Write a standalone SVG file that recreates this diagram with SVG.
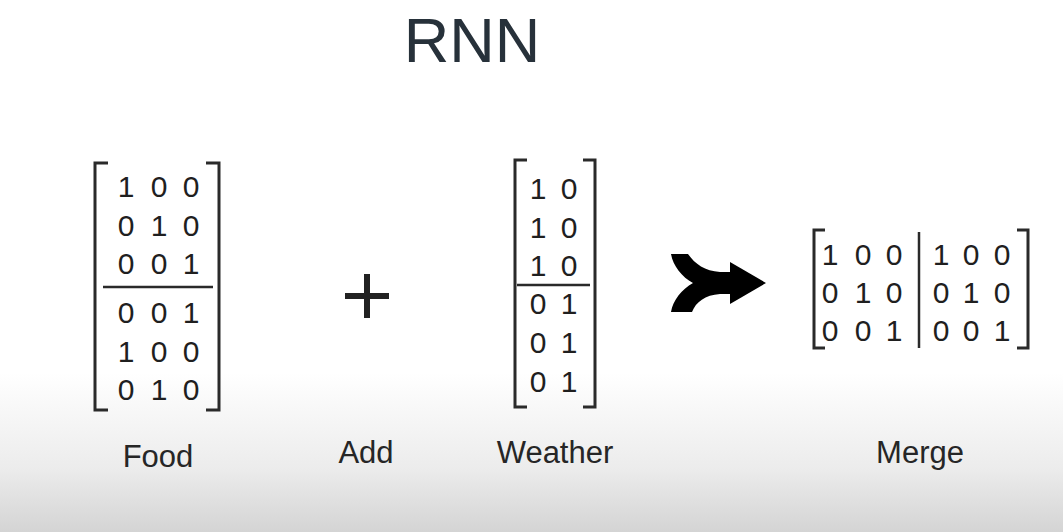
<svg xmlns="http://www.w3.org/2000/svg" width="1063" height="532" viewBox="0 0 1063 532">
<defs>
<linearGradient id="bg" x1="0" y1="0" x2="0" y2="1">
<stop offset="0" stop-color="#ffffff"/>
<stop offset="0.7" stop-color="#ffffff"/>
<stop offset="0.88" stop-color="#ececec"/>
<stop offset="1" stop-color="#d4d4d4"/>
</linearGradient>
</defs>
<style>
.d{font-family:"Liberation Sans",Arial,sans-serif;font-size:30px;fill:#1f1f1f;text-anchor:middle}
.lbl{font-family:"Liberation Sans",Arial,sans-serif;font-size:31px;fill:#262626;text-anchor:middle}
.br{fill:none;stroke:#2a2a2a;stroke-width:3}
.sep{fill:none;stroke:#2a2a2a;stroke-width:2.5}
</style>
<rect x="0" y="0" width="1063" height="532" fill="url(#bg)"/>
<text x="472" y="62" font-family="Liberation Sans, Arial, sans-serif" font-size="63" fill="#27313a" text-anchor="middle">RNN</text>

<g id="food">
<path class="br" d="M108 163 H95 V410 H108"/>
<path class="br" d="M206 163 H219 V410 H206"/>
<line class="sep" x1="103" y1="287" x2="213" y2="287"/>
<g class="d">
<text x="126" y="197">1</text><text x="159" y="197">0</text><text x="191" y="197">0</text>
<text x="126" y="236">0</text><text x="159" y="236">1</text><text x="191" y="236">0</text>
<text x="126" y="274">0</text><text x="159" y="274">0</text><text x="191" y="274">1</text>
<text x="126" y="323">0</text><text x="159" y="323">0</text><text x="191" y="323">1</text>
<text x="126" y="362">1</text><text x="159" y="362">0</text><text x="191" y="362">0</text>
<text x="126" y="400">0</text><text x="159" y="400">1</text><text x="191" y="400">0</text>
</g>
<text class="lbl" x="158" y="467">Food</text>
</g>

<g id="add">
<path d="M345 296 H389 M367 274 V318" stroke="#222" stroke-width="6" fill="none"/>
<text class="lbl" x="366" y="463">Add</text>
</g>

<g id="weather">
<path class="br" d="M527 160 H515 V407 H527"/>
<path class="br" d="M583 160 H595 V407 H583"/>
<line class="sep" x1="517" y1="285" x2="590" y2="285"/>
<g class="d">
<text x="538" y="199">1</text><text x="569" y="199">0</text>
<text x="538" y="238">1</text><text x="569" y="238">0</text>
<text x="538" y="276">1</text><text x="569" y="276">0</text>
<text x="538" y="314">0</text><text x="569" y="314">1</text>
<text x="538" y="353">0</text><text x="569" y="353">1</text>
<text x="538" y="392">0</text><text x="569" y="392">1</text>
</g>
<text class="lbl" x="555" y="463">Weather</text>
</g>

<g id="connectors">
<path d="M671 254 L688 254 C695 264 705 271 720 272 L730 272 L730 262 L766 283 L730 304 L730 294 L720 294 C705 295 696 302 692 312 L671 312 C673 300 682 289 693 283 C682 277 673 266 671 254 Z" fill="#000"/>
</g>

<g id="merge">
<path class="br" d="M825 230 H814 V348 H825"/>
<path class="br" d="M1017 230 H1028 V348 H1017"/>
<line class="sep" x1="919" y1="232" x2="919" y2="348"/>
<g class="d">
<text x="830" y="265">1</text><text x="863" y="265">0</text><text x="894" y="265">0</text>
<text x="830" y="303">0</text><text x="863" y="303">1</text><text x="894" y="303">0</text>
<text x="830" y="341">0</text><text x="863" y="341">0</text><text x="894" y="341">1</text>
<text x="941" y="265">1</text><text x="971" y="265">0</text><text x="1002" y="265">0</text>
<text x="941" y="303">0</text><text x="971" y="303">1</text><text x="1002" y="303">0</text>
<text x="941" y="341">0</text><text x="971" y="341">0</text><text x="1002" y="341">1</text>
</g>
<text class="lbl" x="920" y="463">Merge</text>
</g>
</svg>
